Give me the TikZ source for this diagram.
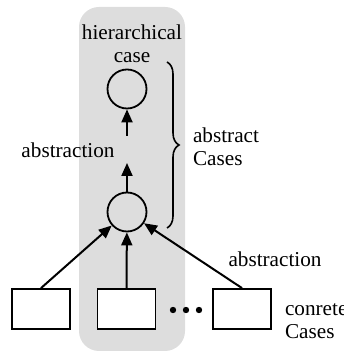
\documentclass[tikz,border=0pt]{standalone}
\usepackage{fontspec}
\setmainfont{Liberation Serif}
\usepackage{tikz}
\usetikzlibrary{arrows.meta, positioning, decorations.pathreplacing}

\definecolor{bandgray}{HTML}{DDDDDD}

\begin{document}
\begin{tikzpicture}[
    x=0.5pt, y=0.5pt,
    font=\fontsize{10.6}{11.5}\selectfont,
    casebox/.style={rectangle, draw, line width=0.9pt, fill=white, minimum width=29pt, minimum height=20pt, inner sep=0pt},
    casecirc/.style={circle, draw, line width=0.9pt, minimum size=19.5pt, inner sep=0pt},
    dot/.style={circle, fill=black, minimum size=3.2pt, inner sep=0pt},
    arrow/.style={-{Triangle[length=6.5pt, width=5.5pt]}, line width=1pt}
]
    \useasboundingbox (0,0) rectangle (343,352);

    % Shaded band
    \fill[bandgray, rounded corners=10pt] (79,1) rectangle (185,345);

    % Cases
    \node[casecirc] (top) at (127,263) {};
    \node[casecirc] (mid) at (127,140) {};
    \node[casebox] (c1) at (41,43) {};
    \node[casebox] (c2) at (126.5,43) {};
    \node[casebox] (c3) at (242,43) {};
    \foreach \x in {173,186,199}
        \node[dot] at (\x,42) {};

    % Labels
    \node[align=center] (hier) at (132,308.5) {hierarchical\\case};
    \node (absleft) at (68,202) {abstraction};
    \node[anchor=west, align=left] (abscases) at (186,205.5) {abstract\\Cases};
    \node (absright) at (275,93) {abstraction};
    \node[anchor=west, align=left] (concases) at (278,30.5) {conrete\\Cases};

    % Arrows
    \coordinate (gaplow) at (127,189);
    \coordinate (gaphigh) at (127,216);
    \draw[arrow] (c1.north) -- (mid);
    \draw[arrow] (c2.north) -- (mid);
    \draw[arrow] (c3.north) -- (mid);
    \draw[arrow] (mid) -- (gaplow);
    \draw[arrow] (gaphigh) -- (top);

    % Brace
    \draw[line width=0.8pt, decorate, decoration={brace, amplitude=6pt}] (167,290) -- (167,124);
\end{tikzpicture}
\end{document}
